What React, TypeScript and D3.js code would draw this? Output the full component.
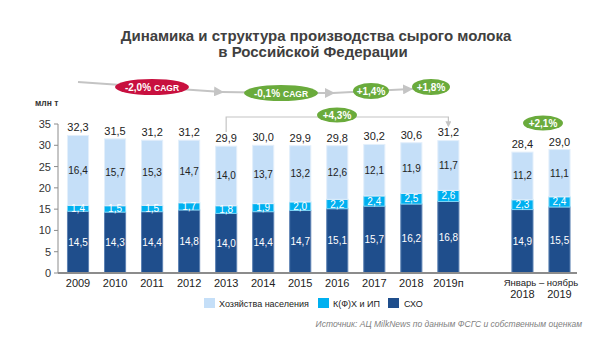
import React from "react";
import * as d3 from "d3";

const categories = ["2009", "2010", "2011", "2012", "2013", "2014", "2015", "2016", "2017", "2018", "2019п", "", "Янв2018", "Янв2019"];
const xLabels = ["2009", "2010", "2011", "2012", "2013", "2014", "2015", "2016", "2017", "2018", "2019п", "", "2018", "2019"];
const barKeys = ["2009", "2010", "2011", "2012", "2013", "2014", "2015", "2016", "2017", "2018", "2019п", "Янв2018", "Янв2019"];
const sho = [14.5, 14.3, 14.4, 14.8, 14.0, 14.4, 14.7, 15.1, 15.7, 16.2, 16.8, 14.9, 15.5];
const kfh = [1.4, 1.5, 1.5, 1.7, 1.8, 1.9, 2.0, 2.2, 2.4, 2.5, 2.6, 2.3, 2.4];
const hn = [16.4, 15.7, 15.3, 14.7, 14.0, 13.7, 13.2, 12.6, 12.1, 11.9, 11.7, 11.2, 11.1];
const totals = [32.3, 31.5, 31.2, 31.2, 29.9, 30.0, 29.9, 29.8, 30.2, 30.6, 31.2, 28.4, 29.0];
const yTicks = [0, 5, 10, 15, 20, 25, 30, 35];
const seriesNames = ["Хозяйства населения", "К(Ф)Х и ИП", "СХО"];
const colors = ["#c5dff8", "#00b0f0", "#1f4e8c"];
const strokes = ["#e3effb", "#7fd6f7", "#5d82b3"];

const FONT = "'Liberation Sans', Arial, sans-serif";
const fmt = (v: number) => v.toFixed(1).replace(".", ",");

export default function App() {
  const x = d3.scaleBand<string>().domain(categories).range([59.5, 578]).paddingInner(0.43).paddingOuter(0.215);
  const y = d3.scaleLinear().domain([0, 35]).range([273, 124]);
  const bw = x.bandwidth();

  const stacks = barKeys.map((k, i) => {
    const vals = [sho[i], kfh[i], hn[i]];
    const segs: { y0: number; y1: number; v: number; s: number }[] = [];
    let acc = 0;
    vals.forEach((v, j) => {
      segs.push({ y0: acc, y1: acc + v, v, s: 2 - j });
      acc += v;
    });
    return { k, segs, total: totals[i] };
  });

  const cx = (k: string) => (x(k) as number) + bw / 2;

  const ellipse = (ex: number, ey: number, rx: number, ry: number, fill: string, label: string, small?: string) => (
    <g>
      <ellipse cx={ex} cy={ey} rx={rx} ry={ry} fill={fill} />
      <text x={ex} y={ey + 3.5} textAnchor="middle" fill="#fff" fontFamily={FONT} fontWeight="bold" fontSize={10}>
        {label}
        {small ? <tspan fontSize={8.5} dx={3}>{small}</tspan> : null}
      </text>
    </g>
  );

  const lineCol = "#c4c4c4";

  return (
    <div style={{ position: "absolute", left: 0, top: 0 }}>
      <svg width={610} height={342} style={{ display: "block", background: "#fff" }}>
        <defs>
          <marker id="arr" viewBox="0 0 10 10" refX="8" refY="5" markerWidth="5" markerHeight="5" orient="auto">
            <path d="M0,0 L10,5 L0,10 z" fill={lineCol} />
          </marker>
        </defs>
        {/* Title */}
        <text x={316} y={41} textAnchor="middle" fontFamily={FONT} fontWeight="bold" fontSize={15} fill="#404040">
          Динамика и структура производства сырого молока
        </text>
        <text x={313} y={57} textAnchor="middle" fontFamily={FONT} fontWeight="bold" fontSize={15} fill="#404040">
          в Российской Федерации
        </text>

        {/* CAGR arrows */}
        <path d="M78,82 L222,92" stroke={lineCol} strokeWidth={2} fill="none" markerEnd="url(#arr)" />
        <path d="M222,92 L281,93" stroke={lineCol} strokeWidth={2} fill="none" />
        <path d="M281,93 L333,93" stroke={lineCol} strokeWidth={2} fill="none" markerEnd="url(#arr)" />
        <path d="M333,93 L371,91" stroke={lineCol} strokeWidth={2} fill="none" />
        <path d="M371,91 L411,89" stroke={lineCol} strokeWidth={2} fill="none" markerEnd="url(#arr)" />
        <path d="M411,89 L431,87" stroke={lineCol} strokeWidth={2} fill="none" />
        {ellipse(152, 87, 37, 8, "#c8103f", "-2,0%", "CAGR")}
        {ellipse(281, 93, 37, 8, "#6aab3c", "-0,1%", "CAGR")}
        {ellipse(371, 91, 18, 8, "#6aab3c", "+1,4%")}
        {ellipse(431, 87, 19, 8, "#6aab3c", "+1,8%")}

        {/* bracket 2013 -> 2019п */}
        <path d={`M${cx("2013")},132 L${cx("2013")},117 L${cx("2019п")},117 L${cx("2019п")},126`} stroke={lineCol} strokeWidth={1.2} fill="none" markerEnd="url(#arr)" />
        {ellipse(337, 115, 20, 7.5, "#6aab3c", "+4,3%")}
        {ellipse(543, 123, 20, 7.5, "#6aab3c", "+2,1%")}

        {/* y label */}
        <text x={35} y={106} fontFamily={FONT} fontWeight="bold" fontSize={8.5} fill="#333">млн т</text>

        {/* y axis */}
        <line x1={58} x2={58} y1={y(35)} y2={y(0)} stroke="#8c8c8c" strokeWidth={1} />
        {yTicks.map((t) => (
          <g key={t}>
            <line x1={54} x2={58} y1={y(t)} y2={y(t)} stroke="#8c8c8c" strokeWidth={1} />
            <text x={51} y={y(t) + 4} textAnchor="end" fontFamily={FONT} fontSize={11} fill="#333">{t}</text>
          </g>
        ))}

        {/* bars */}
        {stacks.map((st) => (
          <g key={st.k}>
            {st.segs.map((sg) => (
              <rect key={sg.s} x={x(st.k)} y={y(sg.y1)} width={bw} height={y(sg.y0) - y(sg.y1)} fill={colors[sg.s]} stroke={strokes[sg.s]} strokeWidth={1} />
            ))}
            {st.segs.map((sg) => (
              <text key={"t" + sg.s} x={cx(st.k)} y={y((sg.y0 + sg.y1) / 2) + 3.5} textAnchor="middle" fontFamily={FONT} fontSize={10} fill={sg.s === 0 ? "#222" : "#fff"}>
                {fmt(sg.v)}
              </text>
            ))}
            <text x={cx(st.k)} y={y(st.total) - 4} textAnchor="middle" fontFamily={FONT} fontSize={11} fill="#222">{fmt(st.total)}</text>
          </g>
        ))}

        {/* x axis */}
        <line x1={58} x2={577} y1={273} y2={273} stroke="#8c8c8c" strokeWidth={2} />
        {categories.map((c, i) =>
          c === "" ? null : (
            <text key={c} x={cx(c)} y={i > 11 ? 298 : 287} textAnchor="middle" fontFamily={FONT} fontSize={11} fill="#222">{xLabels[i]}</text>
          )
        )}
        <text x={(cx("Янв2018") + cx("Янв2019")) / 2} y={285.5} textAnchor="middle" fontFamily={FONT} fontSize={9.5} fill="#222">Январь – ноябрь</text>

        {/* legend */}
        {[
          { x: 204, tx: 219 },
          { x: 318, tx: 333 },
          { x: 388, tx: 404 },
        ].map((l, i) => (
          <g key={i}>
            <rect x={l.x} y={298} width={11} height={10} fill={colors[i]} />
            <text x={l.tx} y={306.5} fontFamily={FONT} fontSize={9} fill="#222">{seriesNames[i]}</text>
          </g>
        ))}

        {/* source */}
        <text x={582} y={327} textAnchor="end" fontFamily={FONT} fontStyle="italic" fontSize={8.5} fill="#7f7f7f">
          Источник: АЦ MilkNews по данным ФСГС и собственным оценкам
        </text>
      </svg>
    </div>
  );
}
